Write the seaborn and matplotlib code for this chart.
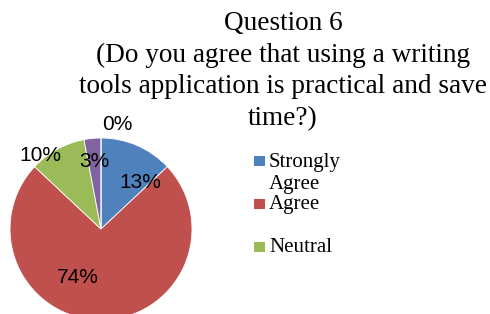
import matplotlib
matplotlib.use("Agg")
import matplotlib.pyplot as plt
import seaborn as sns
from matplotlib.patches import Rectangle

# Data
categories = ["Strongly Agree", "Agree", "Neutral", "Disagree", "Strongly Disagree"]
percentages = [13, 74, 10, 3, 0]
legend_labels = ["Strongly\nAgree", "Agree", "Neutral"]
title_text = ("Question 6\n(Do you agree that using a writing\n"
              "tools application is practical and save\ntime?)")

PIE_COLORS = ["#4F81BD", "#C0504D", "#9BBB59", "#8064A2", "#4BACC6"]
# where each percent label sits (in pie radius units)
label_pos = [(0.43, 0.51), (-0.25, -0.53), (-0.67, 0.81), (-0.07, 0.74), (0.18, 1.15)]

sns.set_theme(style="white")
plt.rcParams["font.family"] = ["Liberation Serif", "DejaVu Serif"]

fig = plt.figure(figsize=(4.9, 3.14), dpi=100)
ax = fig.add_axes([10 / 490, -6 / 314, 182 / 490, 182 / 314])

wedges, texts, autotexts = ax.pie(
    percentages, colors=PIE_COLORS, startangle=90, counterclock=False,
    autopct="%1.0f%%", wedgeprops={"linewidth": 0.6, "edgecolor": "white"},
    textprops={"family": "Liberation Sans", "fontsize": 15, "color": "#000000"})
for t, (x, y) in zip(autotexts, label_pos):
    t.set_position((x, y))
    t.set_ha("center")
    t.set_va("center")
for w in wedges:
    w.set_clip_on(False)
ax.set_xlim(-1, 1)
ax.set_ylim(-1, 1)
ax.set_aspect("equal")
ax.axis("off")

fig.text(283 / 490, 1 - 11 / 314, title_text, ha="center", va="top",
         fontsize=19.6, color="#000000", linespacing=1.35)

# legend drawn by hand: first three categories only
for i, lab in enumerate(legend_labels):
    ytop = 156 + i * 43
    fig.add_artist(Rectangle((254 / 490, 1 - (ytop + 10) / 314), 11 / 490, 10 / 314,
                             transform=fig.transFigure, color=PIE_COLORS[i], lw=0))
    if i == 0:
        fig.text(269 / 490, 1 - (ytop - 3) / 314, lab, ha="left", va="top",
                 fontsize=15, color="#000000", linespacing=1.25)
    else:
        fig.text(269 / 490, 1 - (ytop + 5) / 314, lab, ha="left", va="center",
                 fontsize=15, color="#000000")

fig.savefig("out.png", dpi=100)
